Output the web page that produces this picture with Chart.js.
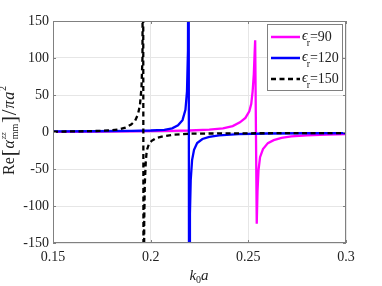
<!DOCTYPE html>
<html>
<head>
<meta charset="utf-8">
<script src="https://cdn.jsdelivr.net/npm/chart.js@4/dist/chart.umd.min.js"></script>
<style>
html,body{margin:0;padding:0;background:#fff;}
#wrap{width:382px;height:286px;}
</style>
</head>
<body>
<div id="wrap"><canvas id="c" width="382" height="286"></canvas></div>
<script>
// ---- data ----
const xTicks = [0.15, 0.2, 0.25, 0.3];
const yTicks = [-150, -100, -50, 0, 50, 100, 150];
const seriesNames = ["90", "120", "150"];

const k90  = [0.15, 0.17, 0.19, 0.21, 0.22, 0.23, 0.237, 0.242, 0.2457, 0.2485, 0.2505, 0.2515, 0.2522, 0.2528, 0.2532, 0.2535, 0.2543, 0.2547, 0.2552, 0.256, 0.2575, 0.26, 0.263, 0.267, 0.272, 0.28, 0.29, 0.3];
const re90 = [0.3, 0.6, 1.0, 1.6, 2.0, 3.2, 5, 8, 13, 19, 28, 38, 55, 78, 105, 124, -124, -80, -52, -34, -23, -15, -11, -8, -6, -4.5, -3.4, -2.7];

const k120  = [0.15, 0.17, 0.19, 0.20, 0.207, 0.211, 0.214, 0.2163, 0.2178, 0.2186, 0.2191, 0.2194, 0.2197, 0.2201, 0.2205, 0.2212, 0.2222, 0.2238, 0.2265, 0.23, 0.235, 0.245, 0.26, 0.28, 0.3];
const re120 = [0.8, 1.0, 1.5, 2.0, 3, 5, 9, 16, 30, 55, 110, 400, -400, -110, -65, -38, -24, -15, -9.5, -6.5, -4.5, -3, -2, -1.7, -1.5];

const k150  = [0.15, 0.16, 0.17, 0.175, 0.18, 0.184, 0.187, 0.19, 0.192, 0.1935, 0.1945, 0.1953, 0.1958, 0.1961, 0.1964, 0.1967, 0.197, 0.1975, 0.198, 0.199, 0.2005, 0.203, 0.207, 0.212, 0.22, 0.24, 0.27, 0.3];
const re150 = [0.5, 0.8, 1.2, 1.6, 2.3, 3.6, 6, 10, 15, 24, 36, 60, 100, 400, -400, -120, -70, -40, -25, -17, -12, -8, -5.5, -3.5, -2.3, -1.8, -1.6, -1.5];

const colors = ["#ff00ff", "#0000ff", "#000000"];
const FONT = "'Liberation Serif','DejaVu Serif',serif";
const FRAME = "#808080";

function pts(xs, ys){ return xs.map((x,i)=>({x:x, y:ys[i]})); }

const overlay = {
  id: 'overlay',
  afterDraw(chart){
    const ctx = chart.ctx, a = chart.chartArea;
    ctx.save();
    // frame
    ctx.strokeStyle = FRAME; ctx.lineWidth = 1;
    ctx.strokeRect(Math.round(a.left)+0.5, Math.round(a.top)+0.5, Math.round(a.right-a.left)-1, Math.round(a.bottom-a.top)-1);
    // inward ticks on all four sides
    const xs = chart.scales.x, ys = chart.scales.y;
    ctx.beginPath();
    xTicks.forEach(v=>{ const p=Math.round(xs.getPixelForValue(v))+0.5;
      ctx.moveTo(p,a.bottom); ctx.lineTo(p,a.bottom-3); ctx.moveTo(p,a.top); ctx.lineTo(p,a.top+3);});
    yTicks.forEach(v=>{ const p=Math.round(ys.getPixelForValue(v))+0.5;
      ctx.moveTo(a.left,p); ctx.lineTo(a.left+3,p); ctx.moveTo(a.right,p); ctx.lineTo(a.right-3,p);});
    ctx.stroke();

    // legend box
    const lx = 267.5, ly = 24.5, lw = 75, lh = 66;
    ctx.fillStyle = '#fff'; ctx.fillRect(lx, ly, lw, lh);
    ctx.strokeStyle = FRAME; ctx.strokeRect(lx, ly, lw, lh);
    const rows = [37, 58, 79];
    seriesNames.forEach((n,i)=>{
      const y = rows[i];
      ctx.strokeStyle = colors[i]; ctx.lineWidth = 2.5;
      ctx.setLineDash(i===2 ? [5,3.5] : []);
      ctx.beginPath(); ctx.moveTo(271, y); ctx.lineTo(300, y); ctx.stroke();
      ctx.setLineDash([]);
      ctx.fillStyle = '#222'; ctx.textBaseline = 'alphabetic'; ctx.textAlign = 'left';
      let x = 302;
      ctx.font = "italic 14px " + FONT; ctx.fillText("\u03F5", x, y+3); x += ctx.measureText("\u03F5").width;
      ctx.font = "10px " + FONT; ctx.fillText("r", x-1, y+9); x += ctx.measureText("r").width - 1;
      ctx.font = "14px " + FONT; ctx.fillText("=" + n, x, y+4);
    });

    // x title k0a
    ctx.fillStyle = '#222';
    const big = "italic 15px " + FONT, sm = "10px " + FONT;
    ctx.font = big; const wk = ctx.measureText("k").width, wa = ctx.measureText("a").width;
    ctx.font = sm; const w0 = ctx.measureText("0").width;
    let xt = 199 - (wk+w0+wa)/2, by = 280;
    ctx.font = big; ctx.fillText("k", xt, by); xt += wk;
    ctx.font = sm; ctx.fillText("0", xt, by+3); xt += w0;
    ctx.font = big; ctx.fillText("a", xt, by);

    // y title Re[α^zz_mm]/πa^2 (rotated)
    const parts = [
      {t:"Re", f:"16px "+FONT, dy:0},
      {t:"[", f:"21px "+FONT, dy:2},
      {t:"\u03B1", f:"italic 16px "+FONT, dy:0},
      {t:"zz", f:"italic 9px "+FONT, dy:-8, stackWith:"mm"},
      {t:"]", f:"21px "+FONT, dy:2},
      {t:"/", f:"21px "+FONT, dy:2},
      {t:"\u03C0", f:"italic 16px "+FONT, dy:0},
      {t:"a", f:"italic 16px "+FONT, dy:0},
      {t:"2", f:"10px "+FONT, dy:-8}
    ];
    let total = 0;
    parts.forEach(p=>{ ctx.font=p.f; let w=ctx.measureText(p.t).width;
      if(p.stackWith){ ctx.font="10px "+FONT; w=Math.max(w, ctx.measureText(p.stackWith).width); }
      p.w=w; total+=w+0.8; });
    ctx.translate(14, 130); ctx.rotate(-Math.PI/2);
    let px = -total/2;
    parts.forEach(p=>{
      ctx.font=p.f; ctx.fillText(p.t, px, p.dy);
      if(p.stackWith){ ctx.font="10px "+FONT; ctx.fillText(p.stackWith, px, 4); }
      px += p.w+0.8;
    });
    ctx.restore();
  }
};

new Chart(document.getElementById('c'), {
  type: 'line',
  data: {
    datasets: [
      {label:"90",  data: pts(k90, re90),  borderColor: colors[0], borderWidth: 2.3, pointRadius: 0, tension: 0, order: 3, fill:false},
      {label:"120", data: pts(k120, re120), borderColor: colors[1], borderWidth: 2.3, pointRadius: 0, tension: 0, order: 2, fill:false},
      {label:"150", data: pts(k150, re150), borderColor: colors[2], borderWidth: 2.3, pointRadius: 0, tension: 0, order: 1, fill:false, borderDash:[5,3.5]}
    ]
  },
  options: {
    responsive: false,
    animation: false,
    events: [],
    layout: {padding: {left: 0, right: 36, top: 21, bottom: 0}},
    plugins: {legend: {display:false}, tooltip: {enabled:false}},
    scales: {
      x: {
        type: 'linear', min: 0.15, max: 0.3,
        afterBuildTicks: s => { s.ticks = xTicks.map(v=>({value:v})); },
        afterFit: s => { s.height = 43; },
        grid: {color: '#e6e6e6', drawTicks: false, lineWidth: 1},
        border: {display: false},
        ticks: {padding: 6, color: '#222', font: {family: FONT, size: 14}, maxRotation: 0,
                callback: v => String(parseFloat(Number(v).toFixed(2)))}
      },
      y: {
        min: -150, max: 150,
        afterBuildTicks: s => { s.ticks = yTicks.map(v=>({value:v})); },
        afterFit: s => { s.width = 53; },
        grid: {color: '#e6e6e6', drawTicks: false, lineWidth: 1},
        border: {display: false},
        ticks: {padding: 4, color: '#222', font: {family: FONT, size: 14}}
      }
    }
  },
  plugins: [overlay]
});
</script>
</body>
</html>
